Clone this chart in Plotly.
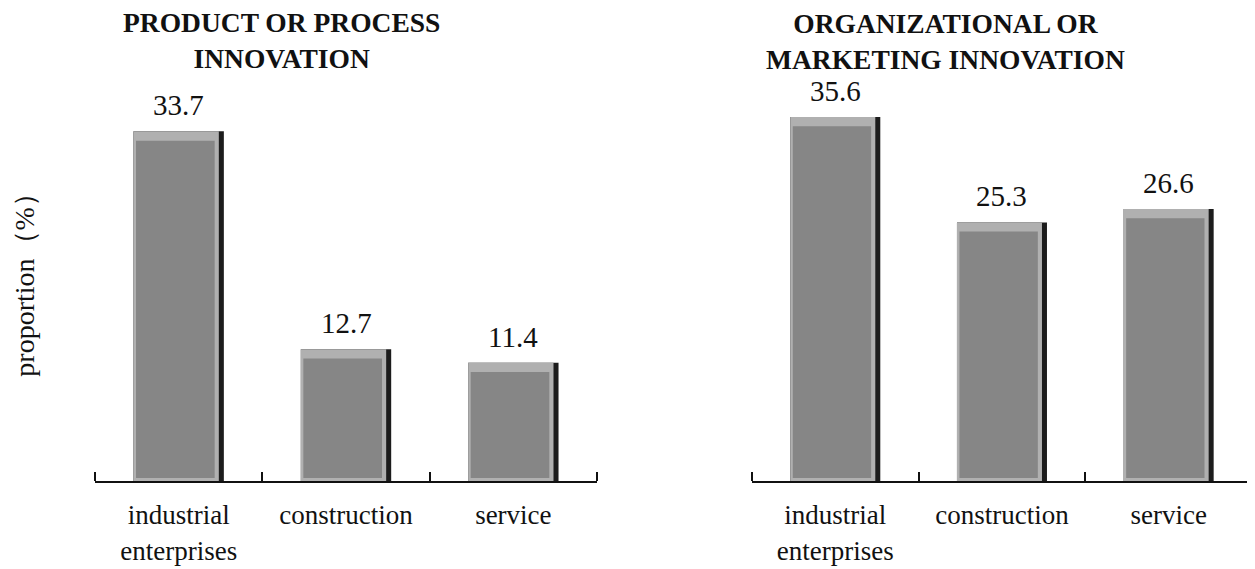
import plotly.graph_objects as go

categories = ["industrial<br>enterprises", "construction", "service"]
product_process = [33.7, 12.7, 11.4]
org_marketing = [35.6, 25.3, 26.6]
titles = ["<b>PRODUCT OR PROCESS<br>INNOVATION</b>", "<b>ORGANIZATIONAL OR<br>MARKETING INNOVATION</b>"]
y_label = "proportion（%）"

FONT = "Liberation Serif, Times New Roman, serif"
fig = go.Figure()

def add_bars(vals, xa, ya):
    xs = list(range(len(vals)))
    # dark body (right edge shadow)
    fig.add_trace(go.Bar(x=xs, y=vals, width=0.54, offset=-0.27, marker=dict(color="#1c1c1c", line=dict(width=0)),
                         xaxis=xa, yaxis=ya, showlegend=False, hoverinfo="skip"))
    # light bevel
    fig.add_trace(go.Bar(x=xs, y=vals, width=0.51, offset=-0.27, marker=dict(color="#b0b0b0", line=dict(width=0)),
                         xaxis=xa, yaxis=ya, showlegend=False, hoverinfo="skip"))
    # face
    fig.add_trace(go.Bar(x=xs, y=[v - 1.2 for v in vals], base=0.3, width=0.47, offset=-0.255,
                         marker=dict(color="#868686", line=dict(width=0)),
                         xaxis=xa, yaxis=ya, showlegend=False, hoverinfo="skip"))
    for x, v in zip(xs, vals):
        fig.add_annotation(x=x, y=v, xref=xa, yref=ya, text=f"{v:.1f}", showarrow=False,
                           xanchor="center", yanchor="bottom", yshift=8,
                           font=dict(family=FONT, size=29, color="#111"))

add_bars(product_process, "x", "y")
add_bars(org_marketing, "x2", "y2")

xcommon = dict(type="linear", showline=True, linecolor="#111", linewidth=2, ticks="", showgrid=False,
               zeroline=False, range=[-0.5, 2.5], tickvals=[0, 1, 2], ticktext=categories,
               ticklabelstandoff=9, tickfont=dict(family=FONT, size=27, color="#111"),
               minor=dict(tickvals=[-0.5, 0.5, 1.5, 2.5], ticks="inside", ticklen=9, tickwidth=2, tickcolor="#111"))

fig.update_layout(
    width=1247, height=561,
    margin=dict(l=87, r=3, t=58, b=83),
    paper_bgcolor="white", plot_bgcolor="white",
    barmode="overlay",
    xaxis=dict(domain=[0, 0.4339], **xcommon),
    xaxis2=dict(domain=[0.5678, 1], **xcommon),
    yaxis=dict(range=[0, 40], visible=False, domain=[0, 1]),
    yaxis2=dict(range=[0, 40.6], visible=False, domain=[0, 1], anchor="x2"),
)

fig.add_annotation(text=titles[0], xref="paper", yref="paper", x=0.1616, y=1.062, xanchor="center", yanchor="middle",
                   showarrow=False, borderpad=0, font=dict(family=FONT, size=27.5, color="#111"))
fig.add_annotation(text=titles[1], xref="paper", yref="paper", x=0.7355, y=1.060, xanchor="center", yanchor="middle",
                   showarrow=False, borderpad=0, font=dict(family=FONT, size=27.5, color="#111"))
fig.add_annotation(text=y_label, xref="paper", yref="paper", x=-0.0605, y=0.49, textangle=-90,
                   xanchor="center", yanchor="middle", showarrow=False, font=dict(family=FONT, size=28, color="#111"))

fig.write_html("out.html")
